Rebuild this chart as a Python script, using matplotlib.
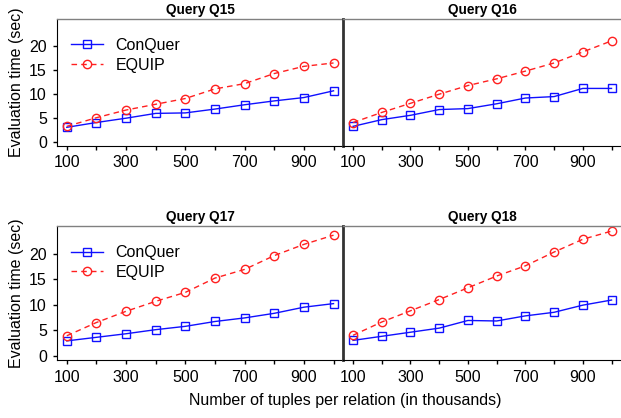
import matplotlib
matplotlib.use('Agg')
import matplotlib.pyplot as plt

plt.rcParams['font.family'] = ['Liberation Sans', 'DejaVu Sans']

sizes = [100, 200, 300, 400, 500, 600, 700, 800, 900, 1000]
queries = ['Q15', 'Q16', 'Q17', 'Q18']

conquer = {
    'Q15': [3.0, 4.0, 4.9, 5.9, 6.0, 6.8, 7.7, 8.5, 9.2, 10.6],
    'Q16': [3.2, 4.6, 5.5, 6.7, 6.9, 7.9, 9.1, 9.4, 11.1, 11.1],
    'Q17': [2.9, 3.6, 4.3, 5.1, 5.75, 6.7, 7.4, 8.3, 9.5, 10.2],
    'Q18': [3.0, 3.8, 4.6, 5.4, 6.9, 6.8, 7.8, 8.5, 9.9, 10.9],
}
equip = {
    'Q15': [3.2, 5.0, 6.6, 7.8, 9.0, 11.0, 12.1, 14.2, 15.7, 16.4],
    'Q16': [4.0, 6.1, 8.0, 9.9, 11.7, 13.1, 14.7, 16.4, 18.7, 21.0],
    'Q17': [3.9, 6.5, 8.7, 10.65, 12.4, 15.2, 16.9, 19.6, 21.8, 23.6],
    'Q18': [4.0, 6.6, 8.8, 11.0, 13.3, 15.6, 17.6, 20.3, 22.8, 24.4],
}

W, H = 621, 418
fig = plt.figure(figsize=(W / 100, H / 100), dpi=100)

# panel boxes in pixels: (left, top, right, bottom)
boxes = {
    'Q15': (56.7, 19, 343.3, 145.7),
    'Q16': (343.3, 19, 621, 145.7),
    'Q17': (56.7, 226, 343.3, 360.3),
    'Q18': (343.3, 226, 621, 360.3),
}
ylims = {'Q15': (-0.83, 25.56), 'Q16': (-0.83, 25.56),
         'Q17': (-0.9, 25.4), 'Q18': (-0.9, 25.4)}

blue = '#1010ff'
red = '#ff2020'

for q in queries:
    l, t, r, b = boxes[q]
    ax = fig.add_axes([l / W, 1 - b / H, (r - l) / W, (b - t) / H])
    ax.plot(sizes, conquer[q], color=blue, lw=1.0, marker='s', ms=5.8,
            mfc='none', mec=blue, mew=1.0, label='ConQuer')
    ax.plot(sizes, equip[q], color=red, lw=1.0, ls=(0, (4, 3)), marker='o', ms=6,
            mfc='none', mec=red, mew=1.0, label='EQUIP')
    ax.set_xlim(66, 1033)
    ax.set_ylim(*ylims[q])
    ax.set_xticks(sizes)
    ax.set_xticklabels([str(s) if s % 200 == 100 else '' for s in sizes])
    ax.tick_params(axis='both', direction='out', length=3, width=1,
                   labelsize=11.5, pad=4)
    ax.set_title(f'Query {q}', fontsize=9.8, fontweight='bold', pad=3.5)
    ax.spines['top'].set_color('#808080')
    ax.spines['top'].set_linewidth(1.0)
    ax.spines['right'].set_visible(False)
    if q in ('Q15', 'Q17'):
        ax.set_yticks([0, 5, 10, 15, 20])
        ax.set_ylabel('Evaluation time (sec)', fontsize=11.5, labelpad=4)
        ax.legend(loc='upper left', bbox_to_anchor=(0.01, 0.94), frameon=False,
                  fontsize=11.5, handlelength=2.0, handletextpad=0.8,
                  labelspacing=0.3, borderaxespad=0.3)
    else:
        ax.set_yticks([])
        ax.spines['left'].set_linewidth(2.0)
        ax.spines['left'].set_color('#333333')

fig.text(345 / W, 1 - 401 / H, 'Number of tuples per relation (in thousands)',
         ha='center', va='center', fontsize=11.5)

fig.savefig('out.png', dpi=100)
